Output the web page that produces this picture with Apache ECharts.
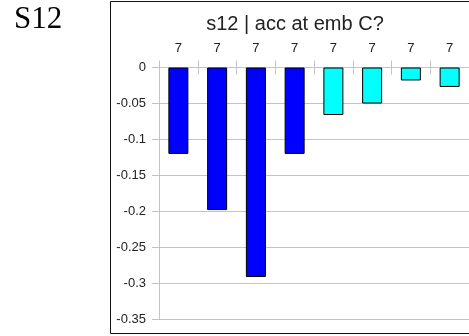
<!DOCTYPE html>
<html>
<head>
<meta charset="utf-8">
<style>
  html, body { margin: 0; padding: 0; background: #fff; }
  #chart { width: 469px; height: 336px; }
</style>
<script src="https://cdn.jsdelivr.net/npm/echarts@6/dist/echarts.min.js"></script>
</head>
<body>
<div id="chart"></div>
<script>
// Accuracy change per embedding position
const categories = ['p1', 'p2', 'p3', 'p4', 'p5', 'p6', 'p7', 'p8'];
const counts = ['7', '7', '7', '7', '7', '7', '7', '7'];
const values = [-0.12, -0.198, -0.291, -0.12, -0.066, -0.05, -0.018, -0.027];
const groups = ['a', 'a', 'a', 'a', 'b', 'b', 'b', 'b'];
const yTicks = [0, -0.05, -0.1, -0.15, -0.2, -0.25, -0.3, -0.35];

const groupColor = { a: '#0000ff', b: '#00ffff' };
const sans = 'Liberation Sans, Arial, sans-serif';
const gridGray = '#c4c4c4';

const chart = echarts.init(document.getElementById('chart'), null, { renderer: 'canvas' });

chart.setOption({
  animation: false,
  backgroundColor: '#fff',
  title: {
    text: 's12 | acc at emb C?',
    left: 290,
    top: 9,
    textAlign: 'center',
    textStyle: { fontFamily: sans, fontSize: 20, fontWeight: 'normal', color: '#222' }
  },
  graphic: [
    {
      type: 'rect',
      shape: { x: 110.5, y: 1.5, width: 420, height: 332 },
      style: { fill: 'none', stroke: '#111', lineWidth: 1 },
      z: 0
    },
    {
      type: 'text',
      left: 14,
      top: 4,
      style: { text: 'S12', font: '31px "Liberation Serif", "Times New Roman", serif', fill: '#000' }
    }
  ],
  grid: { left: 159, right: -2.3, top: 67.5, bottom: 16.5 },
  xAxis: [
    {
      type: 'category',
      data: counts,
      position: 'top',
      axisLine: { show: true, lineStyle: { color: gridGray } },
      axisTick: { show: true, length: 7, lineStyle: { color: gridGray } },
      axisLabel: { margin: 13, fontFamily: sans, fontSize: 13, color: '#222' },
      splitLine: { show: false }
    },
    {
      type: 'category',
      data: categories,
      position: 'top',
      offset: 0,
      axisLine: { show: false },
      axisTick: { show: true, inside: true, length: 7, lineStyle: { color: gridGray } },
      axisLabel: { show: false },
      splitLine: { show: false }
    }
  ],
  yAxis: {
    type: 'value',
    min: -0.35,
    max: 0,
    interval: 0.05,
    axisLine: { show: true, lineStyle: { color: gridGray } },
    axisTick: { show: true, length: 7, lineStyle: { color: gridGray } },
    axisLabel: {
      margin: 13,
      fontFamily: sans,
      fontSize: 13,
      color: '#222',
      formatter: v => {
        const t = yTicks.find(k => Math.abs(k - v) < 1e-9);
        return t === undefined ? '' : String(t);
      }
    },
    splitLine: { show: true, lineStyle: { color: gridGray } }
  },
  series: [
    {
      type: 'bar',
      xAxisIndex: 0,
      barWidth: 20,
      data: values.map((v, i) => ({
        value: v,
        itemStyle: { color: groupColor[groups[i]], borderColor: '#000', borderWidth: 1 }
      }))
    }
  ]
});
</script>
</body>
</html>
